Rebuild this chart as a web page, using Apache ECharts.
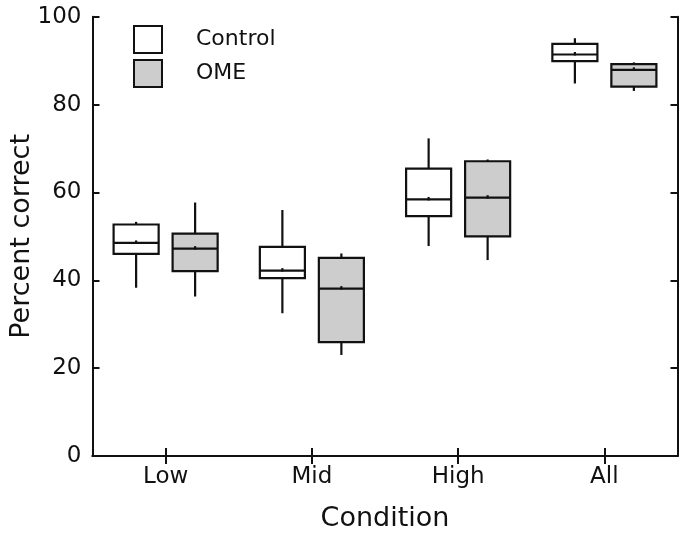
<!DOCTYPE html>
<html>
<head>
<meta charset="utf-8">
<script src="https://cdn.jsdelivr.net/npm/echarts@6/dist/echarts.min.js"></script>
<style>
html,body{margin:0;padding:0;background:#fff;}
#chart{width:689px;height:540px;}
</style>
</head>
<body>
<div id="chart"></div>
<script>
// Categories and tick labels
const categories = ['Low', 'Mid', 'High', 'All'];
const yTicks = [0, 20, 40, 60, 80, 100];
// Box stats per category: [lowerWhisker, q1, median, q3, upperWhisker]
const controlStats = [
  [38.3, 46.0, 48.5, 52.7, 53.3],
  [32.5, 40.5, 42.2, 47.6, 56.0],
  [47.8, 54.6, 58.4, 65.4, 72.3],
  [84.8, 89.9, 91.4, 93.8, 95.1]
];
const omeStats = [
  [36.3, 42.1, 47.2, 50.6, 57.7],
  [23.0, 25.9, 38.1, 45.1, 46.1],
  [44.6, 50.0, 58.8, 67.1, 67.5],
  [83.1, 84.1, 87.9, 89.2, 89.6]
];

const INK = '#111111';

function makeRender(offsetRatio, fill) {
  return function (params, api) {
    const cat = api.value(0);
    const band = api.size([1, 0])[0];
    const cx = api.coord([cat, 0])[0] + band * offsetRatio;
    const w = band * 0.308;
    const yLo = api.coord([cat, api.value(1)])[1];
    const yQ1 = api.coord([cat, api.value(2)])[1];
    const yMed = api.coord([cat, api.value(3)])[1];
    const yQ3 = api.coord([cat, api.value(4)])[1];
    const yHi = api.coord([cat, api.value(5)])[1];
    const lineStyle = { stroke: INK, lineWidth: 2.2 };
    return {
      type: 'group',
      children: [
        { type: 'line', shape: { x1: cx, y1: yQ3, x2: cx, y2: yHi }, style: lineStyle },
        { type: 'line', shape: { x1: cx, y1: yQ1, x2: cx, y2: yLo }, style: lineStyle },
        { type: 'rect', shape: { x: cx - w / 2, y: yQ3, width: w, height: yQ1 - yQ3 },
          style: { fill: fill, stroke: INK, lineWidth: 2.2 } },
        { type: 'line', shape: { x1: cx - w / 2, y1: yMed, x2: cx + w / 2, y2: yMed }, style: lineStyle },
        { type: 'line', shape: { x1: cx, y1: yMed - 2.5, x2: cx, y2: yMed + 1 }, style: lineStyle }
      ]
    };
  };
}

function toData(stats) {
  return stats.map((s, i) => [i].concat(s));
}

const chart = echarts.init(document.getElementById('chart'), null, { renderer: 'canvas' });
const axisLine = { show: true, lineStyle: { color: INK, width: 2 } };
chart.setOption({
  backgroundColor: '#fff',
  animation: false,
  textStyle: { fontFamily: 'DejaVu Sans', color: INK },
  grid: { left: 92.5, right: 11.5, top: 16.7, bottom: 84, containLabel: false, outerBoundsMode: 'none' },
  legend: {
    orient: 'vertical',
    left: 128,
    top: 20,
    itemWidth: 28,
    itemHeight: 27,
    itemGap: 5,
    icon: 'rect',
    selectedMode: false,
    textStyle: { fontSize: 22, color: INK, fontFamily: 'DejaVu Sans', padding: [0, 0, 0, 29] },
    itemStyle: { borderColor: INK, borderWidth: 2 },
    data: ['Control', 'OME']
  },
  xAxis: [
    {
      type: 'category',
      data: categories,
      position: 'bottom',
      axisLine: axisLine,
      axisTick: { show: true, inside: true, length: 8, alignWithLabel: true, lineStyle: { color: INK, width: 2 } },
      axisLabel: { fontSize: 23, color: INK, margin: 10, fontFamily: 'DejaVu Sans' },
      splitLine: { show: false },
      name: 'Condition',
      nameLocation: 'middle',
      nameGap: 49,
      nameMoveOverlap: false,
      nameTextStyle: { fontSize: 27, color: INK, fontFamily: 'DejaVu Sans' }
    },
    {
      type: 'category',
      data: categories,
      position: 'top',
      axisLine: axisLine,
      axisTick: { show: true, inside: true, length: 8, alignWithLabel: true, lineStyle: { color: INK, width: 2 } },
      axisLabel: { show: false },
      splitLine: { show: false }
    }
  ],
  yAxis: [
    {
      type: 'value',
      min: 0,
      max: 100,
      interval: 20,
      position: 'left',
      axisLine: axisLine,
      axisTick: { show: true, inside: true, length: 7, lineStyle: { color: INK, width: 2 } },
      axisLabel: { fontSize: 23, color: INK, margin: 11, fontFamily: 'DejaVu Sans',
        formatter: v => (yTicks.indexOf(v) >= 0 ? String(v) : '') },
      splitLine: { show: false },
      name: 'Percent correct',
      nameLocation: 'middle',
      nameGap: 57,
      nameMoveOverlap: false,
      nameTextStyle: { fontSize: 27, color: INK, fontFamily: 'DejaVu Sans' }
    },
    {
      type: 'value',
      min: 0,
      max: 100,
      interval: 20,
      position: 'right',
      axisLine: axisLine,
      axisTick: { show: true, inside: true, length: 7, lineStyle: { color: INK, width: 2 } },
      axisLabel: { show: false },
      splitLine: { show: false }
    }
  ],
  series: [
    {
      name: 'Control',
      type: 'custom',
      xAxisIndex: 0,
      yAxisIndex: 0,
      itemStyle: { color: '#ffffff', borderColor: INK, borderWidth: 2 },
      renderItem: makeRender(-0.2017, '#ffffff'),
      encode: { x: 0, y: [1, 2, 3, 4, 5] },
      data: toData(controlStats)
    },
    {
      name: 'OME',
      type: 'custom',
      xAxisIndex: 0,
      yAxisIndex: 0,
      itemStyle: { color: '#cdcdcd', borderColor: INK, borderWidth: 2 },
      renderItem: makeRender(0.2017, '#cdcdcd'),
      encode: { x: 0, y: [1, 2, 3, 4, 5] },
      data: toData(omeStats)
    }
  ]
});
</script>
</body>
</html>
